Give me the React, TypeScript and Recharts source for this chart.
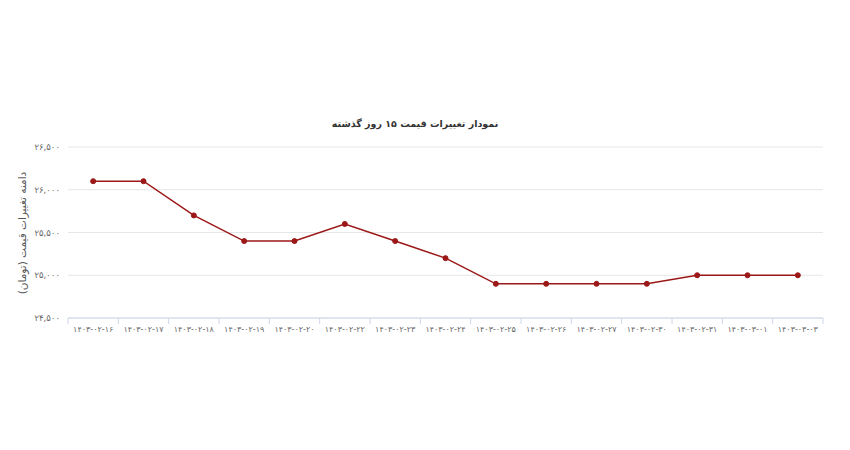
import React from 'react';
import { LineChart, Line, XAxis, YAxis, CartesianGrid } from 'recharts';

const dates = [
    '۱۴۰۳-۰۲-۱۶', '۱۴۰۳-۰۲-۱۷', '۱۴۰۳-۰۲-۱۸', '۱۴۰۳-۰۲-۱۹', '۱۴۰۳-۰۲-۲۰',
    '۱۴۰۳-۰۲-۲۲', '۱۴۰۳-۰۲-۲۳', '۱۴۰۳-۰۲-۲۴', '۱۴۰۳-۰۲-۲۵', '۱۴۰۳-۰۲-۲۶',
    '۱۴۰۳-۰۲-۲۷', '۱۴۰۳-۰۲-۳۰', '۱۴۰۳-۰۲-۳۱', '۱۴۰۳-۰۳-۰۱', '۱۴۰۳-۰۳-۰۳',
];
const prices = [
    26100, 26100, 25700, 25400, 25400,
    25600, 25400, 25200, 24900, 24900,
    24900, 24900, 25000, 25000, 25000,
];
const yTicks = [24500, 25000, 25500, 26000, 26500];

const title = 'نمودار تغییرات قیمت ۱۵ روز گذشته';
const yTitle = 'دامنه تغییرات قیمت (تومان)';

const data = dates.map((d, i) => ({ date: d, price: prices[i] }));

const W = 850;
const H = 450;
const M = { top: 147, right: 27, bottom: 102, left: 0 };
const Y_W = 68;
const band = (W - M.right - Y_W) / dates.length;
const FONT = '"DejaVu Sans", sans-serif';
const RED = '#9c1717';

const faDigits = '۰۱۲۳۴۵۶۷۸۹';
const toFa = (n: number) =>
    n.toLocaleString('en-US').replace(/\d/g, (c) => faDigits[+c]);

// label under each band, tick marks on the band edges (highcharts look)
const DateTick = (props: any) => {
    const { x, y, payload, index } = props;
    const last = index === dates.length - 1;
    return (
        <g>
            <line x1={x - band / 2} x2={x - band / 2} y1={y} y2={y + 6} stroke="#ccd6eb" />
            {last && <line x1={x + band / 2} x2={x + band / 2} y1={y} y2={y + 6} stroke="#ccd6eb" />}
            <text x={x} y={y + 14} textAnchor="middle" fontSize={8} fill="#666" fontFamily={FONT} direction="ltr">
                {payload.value}
            </text>
        </g>
    );
};

export default function App() {
    return (
        <div style={{ position: 'relative', width: W, height: H, margin: -8, background: '#fff' }}>
            <div style={{
                position: 'absolute', top: 118, left: 0, width: W - 20, textAlign: 'center',
                fontFamily: FONT, fontSize: 9.5, color: '#333', fontWeight: 600, direction: 'rtl',
            }}>
                {title}
            </div>
            <div style={{
                position: 'absolute', left: 22, top: 233, width: 200, marginLeft: -100, marginTop: -7,
                textAlign: 'center', transform: 'rotate(-90deg)', fontFamily: FONT, fontSize: 10.5,
                color: '#555', direction: 'rtl', lineHeight: '14px',
            }}>
                {yTitle}
            </div>
            <LineChart width={W} height={H} data={data} margin={M}>
                <CartesianGrid vertical={false} stroke="#e6e6e6" />
                <XAxis
                    dataKey="date"
                    interval={0}
                    height={30}
                    tickSize={0}
                    tickMargin={0}
                    tickLine={false}
                    padding={{ left: band / 2, right: band / 2 }}
                    axisLine={{ stroke: '#ccd6eb' }}
                    tick={<DateTick />}
                />
                <YAxis
                    width={Y_W}
                    domain={[24500, 26500]}
                    ticks={yTicks}
                    axisLine={false}
                    tickLine={false}
                    tickFormatter={toFa}
                    tick={{ fontSize: 8.5, fill: '#666', fontFamily: FONT }}
                />
                <Line
                    type="linear"
                    dataKey="price"
                    stroke={RED}
                    strokeWidth={1.5}
                    dot={{ r: 2.5, fill: RED, stroke: RED, strokeWidth: 1 }}
                    isAnimationActive={false}
                />
            </LineChart>
        </div>
    );
}
